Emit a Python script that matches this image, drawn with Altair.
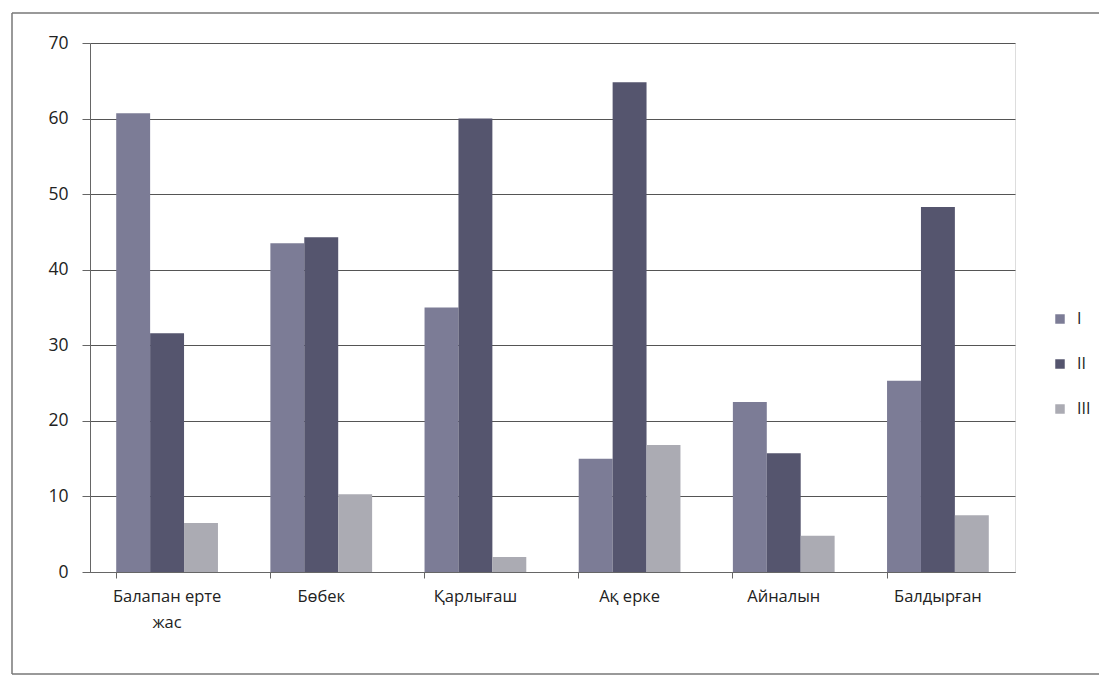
import altair as alt
import pandas as pd

categories = ["Балапан ерте\nжас", "Бөбек", "Қарлығаш", "Ақ ерке", "Айналын", "Балдырған"]
series_names = ["I", "II", "III"]
values_I = [60.7, 43.5, 35.0, 15.0, 22.5, 25.3]
values_II = [31.6, 44.3, 60.0, 64.8, 15.7, 48.3]
values_III = [6.5, 10.3, 2.0, 16.8, 4.8, 7.5]
colors = ["#7c7c96", "#55556e", "#ababb3"]

rows = []
for s, vals in zip(series_names, [values_I, values_II, values_III]):
    for c, v in zip(categories, vals):
        rows.append({"cat": c, "series": s, "value": v})
df = pd.DataFrame(rows)

W, H = 925, 529
FONT = "Open Sans"

bars = alt.Chart(df).mark_bar().encode(
    x=alt.X("cat:N", sort=categories, title=None,
            scale=alt.Scale(paddingInner=0.34, paddingOuter=0.17),
            axis=alt.Axis(labelAngle=0, labelExpr="split(datum.label, '\\n')",
                          bandPosition=0, ticks=True, tickSize=6, tickColor="#666",
                          domainColor="#666", labelFontSize=16.5, labelColor="#222",
                          labelFont=FONT, labelPadding=10, labelLineHeight=26,
                          grid=False, labelBaseline="top")),
    xOffset=alt.XOffset("series:N", sort=series_names),
    y=alt.Y("value:Q", title=None,
            scale=alt.Scale(domain=[0, 70], nice=False),
            axis=alt.Axis(values=[0, 10, 20, 30, 40, 50, 60, 70], grid=True,
                          gridColor="#555", gridWidth=1.2, tickColor="#666",
                          tickSize=8, domainColor="#666", labelFontSize=17.5,
                          labelColor="#222", labelFont=FONT, labelPadding=14)),
    color=alt.Color("series:N", sort=series_names,
                    scale=alt.Scale(domain=series_names, range=colors),
                    legend=alt.Legend(title=None, orient="none", legendX=962, legendY=268,
                                      symbolType="square", symbolSize=90,
                                      symbolStrokeWidth=0, labelFontSize=16,
                                      labelFont=FONT, labelColor="#222",
                                      rowPadding=29, labelOffset=9)),
)

one = pd.DataFrame({"a": [0]})
frame_style = dict(stroke="#777", strokeWidth=1.5)
top_edge = alt.Chart(one).mark_rule(**frame_style).encode(
    x=alt.value(-78), x2=alt.value(1040), y=alt.value(-30), y2=alt.value(-30))
left_edge = alt.Chart(one).mark_rule(**frame_style).encode(
    x=alt.value(-78), x2=alt.value(-78), y=alt.value(-30), y2=alt.value(631))
bottom_edge = alt.Chart(one).mark_rule(**frame_style).encode(
    x=alt.value(-78), x2=alt.value(1040), y=alt.value(631), y2=alt.value(631))

chart = alt.layer(top_edge, left_edge, bottom_edge, bars).properties(
    width=W, height=H,
    padding={"left": 82, "top": 35, "right": 84, "bottom": 104},
    autosize=alt.AutoSizeParams(type="none"),
).configure_view(stroke=None).configure(background="white")

chart.save("out.html", embed_options={"renderer": "svg", "actions": False})
